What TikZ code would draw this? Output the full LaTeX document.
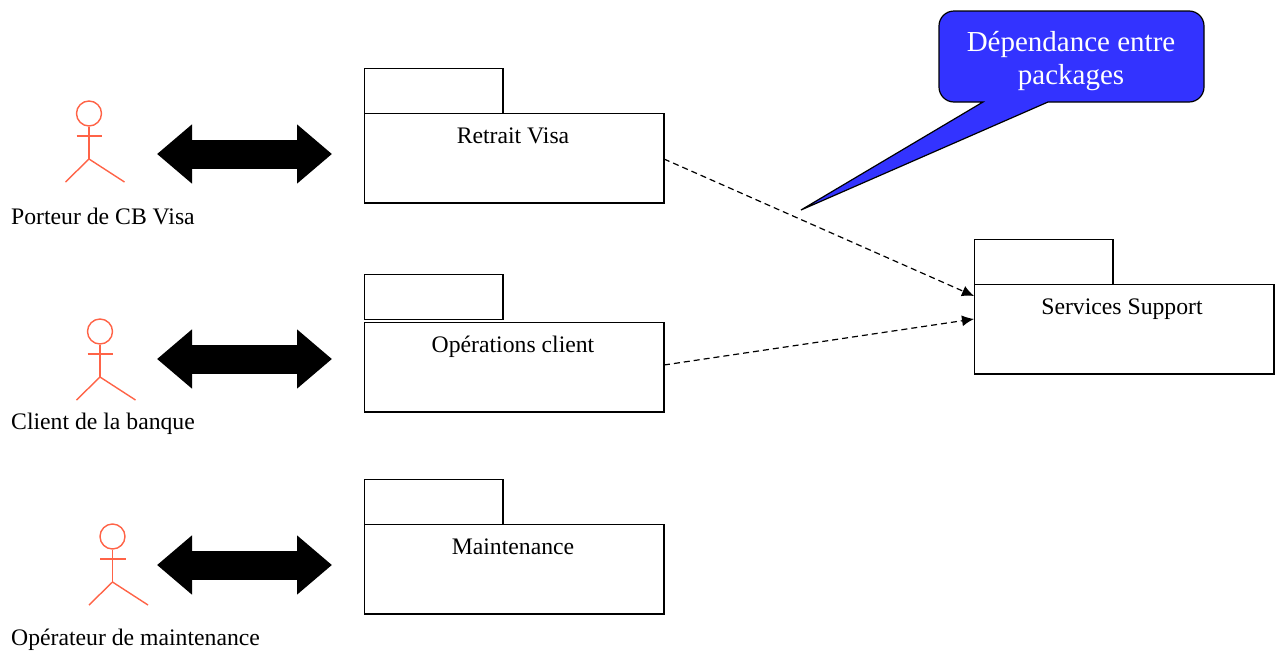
\documentclass[tikz,border=0pt]{standalone}
\usepackage{fontspec}
\setmainfont{Liberation Serif}
\usetikzlibrary{arrows.meta,positioning,calc}

\tikzset{
  pkgtab/.style={draw, line width=1.2pt, minimum width=138.5pt, minimum height=45pt, inner sep=0pt, outer sep=0pt, anchor=north west},
  pkgbody/.style={draw, line width=1.2pt, minimum width=299.5pt, minimum height=89.5pt, inner sep=0pt, outer sep=0pt, anchor=north west},
  pkgtitle/.style={font=\fontsize{23.7}{27}\selectfont, inner sep=0pt, anchor=north},
  actorname/.style={font=\fontsize{23.7}{27}\selectfont, inner sep=0pt, anchor=base west},
  actorline/.style={draw=actorred, line width=1.4pt},
  assoc/.style={line width=29pt, {Triangle[length=35pt,width=57pt]}-{Triangle[length=35pt,width=57pt]}},
  depend/.style={draw, dash pattern=on 6pt off 4pt, line width=1.2pt, -{Latex[length=12pt,width=11pt]}},
}
\definecolor{actorred}{RGB}{255,99,71}
\definecolor{calloutblue}{RGB}{51,51,255}

\begin{document}
\begin{tikzpicture}[x=1pt,y=-1pt]
  \useasboundingbox (0,0) rectangle (1282,651);

  % actors
  \foreach \name/\dx/\dy in {porteur/0/0, client/11/218, operateur/23.5/423}
  {
    \begin{scope}[shift={(\dx,\dy)}]
      \node[circle, actorline, minimum size=25pt, inner sep=0pt] (\name) at (89,113.5) {};
      \coordinate (\name hip) at (89,159);
      \coordinate (\name armL) at (76.5,136);
      \coordinate (\name armR) at (102,136);
      \coordinate (\name legL) at (65.5,182);
      \coordinate (\name legR) at (124.5,182);
      \draw[actorline] (\name) -- (\name hip);
      \draw[actorline] (\name armL) -- (\name armR);
      \draw[actorline] (\name legL) -- (\name hip) -- (\name legR);
    \end{scope}
  }
  \node[actorname] (porteurname) at (11,224) {Porteur de CB Visa};
  \node[actorname] (clientname) at (11,429) {Client de la banque};
  \node[actorname] (operateurname) at (11,645) {Opérateur de maintenance};

  % packages
  \node[pkgtab] (retraittab) at (364.5,68.5) {};
  \node[pkgbody] (retrait) at (364.5,113.5) {};
  \node[pkgtab] (operationstab) at (364.5,274.5) {};
  \node[pkgbody] (operations) at (364.5,322.5) {};
  \node[pkgtab] (maintenancetab) at (364.5,479.5) {};
  \node[pkgbody] (maintenance) at (364.5,524.5) {};
  \node[pkgtab] (supporttab) at (974.5,239.5) {};
  \node[pkgbody] (support) at (974.5,284.5) {};

  \node[pkgtitle] (retraitname) at (513,128) {Retrait Visa};
  \node[pkgtitle] (operationsname) at (513,336) {Opérations client};
  \node[pkgtitle] (maintenancename) at (513,539) {Maintenance};
  \node[pkgtitle] (supportname) at (1122,299) {Services Support};

  % associations
  \foreach \name/\y in {porteur/154, client/359, operateur/565}
  {
    \coordinate (\name from) at (157,\y);
    \coordinate (\name to) at (332,\y);
    \draw[assoc] (\name from) -- (\name to);
  }

  % dependencies
  \coordinate (retraitout) at (664,159);
  \coordinate (supportin1) at (974,296);
  \coordinate (operationsout) at (664,365);
  \coordinate (supportin2) at (974,319);
  \draw[depend] (retraitout) -- (supportin1);
  \draw[depend] (operationsout) -- (supportin2);

  % callout
  \draw[fill=calloutblue, line width=1.2pt]
    (983,102) [rounded corners=15pt] -- (939,102) -- (939,11) -- (1204,11) -- (1204,102) -- (1075,102)
    [sharp corners] -- (1048,102) -- (801,210) -- cycle;
  \node[text=white, align=center, font=\fontsize{29}{33}\selectfont, inner sep=0pt] (calloutname) at (1071,61)
    {Dépendance entre\\packages};
\end{tikzpicture}
\end{document}
